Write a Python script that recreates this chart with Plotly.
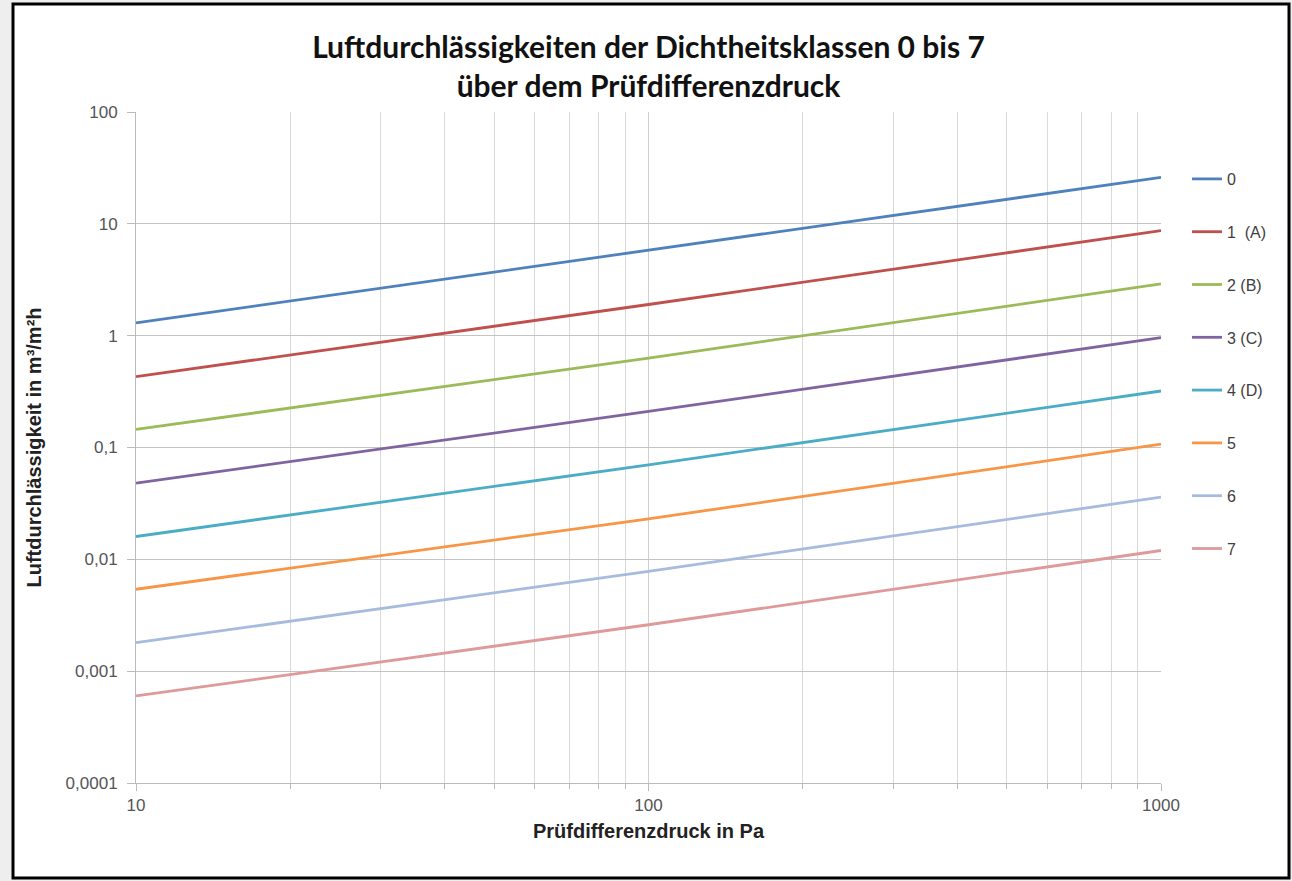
import plotly.graph_objects as go

pressure = [10, 100, 1000]
class_names = ["0", "1  (A)", "2 (B)", "3 (C)", "4 (D)", "5", "6", "7"]
class0 = [1.3, 5.8, 26]
class1 = [0.43, 1.9, 8.7]
class2 = [0.145, 0.63, 2.9]
class3 = [0.048, 0.21, 0.96]
class4 = [0.016, 0.07, 0.32]
class5 = [0.0054, 0.023, 0.107]
class6 = [0.0018, 0.0078, 0.036]
class7 = [0.0006, 0.0026, 0.012]
series = [class0, class1, class2, class3, class4, class5, class6, class7]
colors = ["#4F81BD", "#C0504D", "#9BBB59", "#8064A2", "#4BACC6", "#F79646", "#A7BBDE", "#DE9A9A"]

y_tickvals = [100, 10, 1, 0.1, 0.01, 0.001, 0.0001]
y_ticktext = ["100", "10", "1", "0,1", "0,01", "0,001", "0,0001"]
x_tickvals = [10, 100, 1000]
x_ticktext = ["10", "100", "1000"]

fig = go.Figure()
for i, (name, vals, col) in enumerate(zip(class_names, series, colors)):
    fig.add_trace(go.Scatter(x=pressure, y=vals, mode="lines", name=name,
                             legendgroup=f"g{i}",
                             line=dict(color=col, width=2.8)))

L, R, T, B = 136, 1161, 112, 783
W, H = 1292, 881
def px_x(p):
    return (p - L) / (R - L)
def px_y(p):
    return (B - p) / (B - T)

fig.update_layout(
    width=W, height=H,
    margin=dict(l=L, r=W - R, t=T, b=H - B),
    paper_bgcolor="#eeeeee",
    plot_bgcolor="white",
    title=dict(text="Luftdurchlässigkeiten der Dichtheitsklassen 0 bis 7<br>über dem Prüfdifferenzdruck",
               x=(L + R) / 2 / W, xanchor="center", y=1 - 58 / H, yanchor="top",
               font=dict(family="Lato, Open Sans, sans-serif", size=30, color="#111111", weight="bold")),
    legend=dict(x=px_x(1187), y=px_y(162), xanchor="left", yanchor="top",
                tracegroupgap=29, itemwidth=30, bgcolor="rgba(0,0,0,0)",
                font=dict(family="Liberation Sans, Arial", size=16, color="#404040")),
    showlegend=True,
    shapes=[dict(type="rect", xref="paper", yref="paper",
                 x0=px_x(13), x1=px_x(1289), y0=px_y(878), y1=px_y(4),
                 line=dict(color="black", width=3), fillcolor="white", layer="below")],
)

tickfont = dict(family="Liberation Sans, Arial", size=17, color="#555555")
titlefont = dict(family="Liberation Sans, Arial", size=20, color="#222222", weight="bold")

fig.update_xaxes(type="log", range=[1, 3],
                 tickvals=x_tickvals, ticktext=x_ticktext,
                 showgrid=True, gridcolor="#cfcfcf", gridwidth=1,
                 minor=dict(showgrid=True, gridcolor="#d9d9d9", gridwidth=1, dtick="D1",
                            ticks="outside", ticklen=5, tickcolor="#bbbbbb"),
                 ticks="outside", ticklen=7, tickcolor="#bbbbbb",
                 showline=True, linecolor="#bbbbbb", linewidth=1, zeroline=False,
                 tickfont=tickfont,
                 title=dict(text="Prüfdifferenzdruck in Pa", standoff=9, font=titlefont))
fig.update_yaxes(type="log", range=[-4, 2],
                 tickvals=y_tickvals, ticktext=y_ticktext,
                 showgrid=True, gridcolor="#c4c4c4", gridwidth=1,
                 ticks="outside", ticklen=8, tickcolor="#bbbbbb",
                 showline=True, linecolor="#bbbbbb", linewidth=1, zeroline=False,
                 ticklabelstandoff=6,
                 tickfont=tickfont,
                 title=dict(text="Luftdurchlässigkeit in m³/m²h", standoff=18, font=titlefont))

fig.write_html("out.html", config={"displayModeBar": False},
               post_script="document.body.style.margin='0';")
